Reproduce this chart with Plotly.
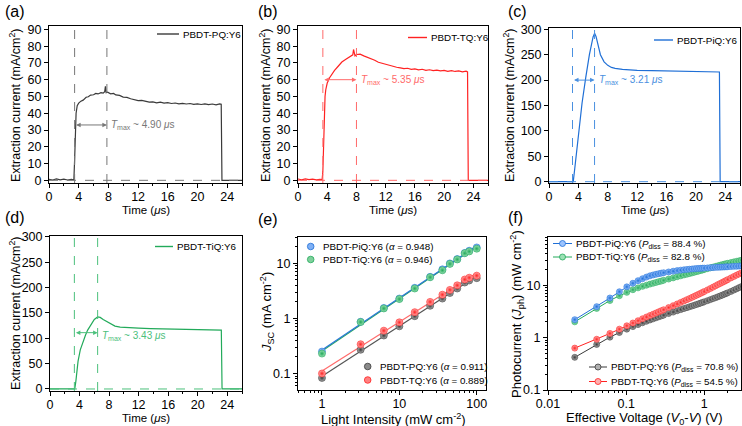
import plotly.graph_objects as go
import numpy as np

W, H = 742, 426
FONT = "Liberation Sans, Arial, Helvetica, sans-serif"

# ---------------- data: panels (a)-(d), extraction current vs time ----------------
time_pq = [0, 0.5, 1.0, 1.5, 2.0, 2.5, 3.0, 3.35, 3.45, 3.55, 3.65, 3.8, 4.0, 4.3, 4.6, 5.0, 5.3, 5.6,
           6.0, 6.3, 6.6, 7.0, 7.3, 7.5, 7.6, 7.7, 7.9, 8.3, 8.7, 9.0, 9.5, 10, 10.5, 11, 11.5, 12, 12.5,
           13, 13.5, 14, 14.5, 15, 15.5, 16, 16.5, 17, 17.5, 18, 18.5, 19, 19.5, 20, 20.5, 21, 21.5, 22,
           22.5, 23, 23.2, 23.3, 24, 25, 26]
cur_pq = [0.6, 0.2, 0.8, 0.3, 0.7, 0.2, 0.5, 0.3, 12, 28, 40, 44.5, 46, 47.2, 47.8, 49.5, 49.8, 50.8,
          51, 51.8, 51.5, 52.3, 52, 52.8, 56, 52.2, 52.5, 51.6, 51.8, 50.9, 50.6, 49.6, 49.4, 48.6, 48.2,
          47.5, 47.6, 47.0, 46.6, 46.8, 46.2, 46.6, 46.0, 46.3, 45.8, 46.1, 45.6, 45.9, 45.5, 45.8, 45.3,
          45.6, 45.2, 45.6, 45.1, 45.5, 45.0, 45.6, 45.4, 0, 0, 0, 0]

time_tq = [0, 0.5, 1.0, 1.5, 2.0, 2.5, 3.0, 3.3, 3.4, 3.5, 3.6, 3.7, 3.8, 4.0, 4.3, 4.6, 5.0, 5.5, 6.0,
           6.5, 7.0, 7.3, 7.5, 7.6, 7.8, 8.0, 8.5, 9.0, 9.5, 10, 10.5, 11, 11.5, 12, 12.5, 13, 13.5, 14,
           14.5, 15, 15.5, 16, 16.5, 17, 17.5, 18, 18.5, 19, 19.5, 20, 20.5, 21, 21.5, 22, 22.5, 23, 23.2,
           23.3, 24, 25, 26]
cur_tq = [0.8, 0.3, 0.9, 0.4, 0.7, 0.3, 0.6, 0.4, 5, 25, 42, 50, 54, 58, 61, 63, 65.5, 68, 70.5,
          72, 73.5, 74.2, 74.8, 78, 74.2, 75, 75.2, 74.2, 73.4, 72.4, 71.6, 70.4, 69.8, 68.8, 68.4, 67.6,
          67.4, 67.0, 66.6, 66.8, 66.2, 66.4, 65.9, 66.2, 65.6, 65.9, 65.4, 65.7, 65.2, 65.5, 65.0, 65.4,
          64.9, 65.2, 64.7, 65.1, 64.6, 0, 0, 0, 0]

time_piq = [0, 1, 2, 3.0, 3.3, 3.5, 4.0, 4.5, 5.0, 5.5, 6.0, 6.2, 6.4, 6.7, 7.0, 7.5, 8.0, 8.5, 9.0,
            10, 11, 12, 14, 16, 18, 20, 22, 23.2, 23.3, 24, 26]
cur_piq = [0, 0, 0, 0, 0, 25, 95, 155, 205, 250, 285, 292, 286, 265, 250, 236, 229, 225, 223,
           221, 220, 219, 218.5, 218, 217.5, 217, 216.5, 216, 0, 0, 0]

time_tiq = [0, 1, 2, 3.0, 3.35, 3.5, 3.65, 3.8, 4.1, 4.5, 4.8, 5.1, 5.5, 6.0, 6.45, 6.8, 7.2, 7.7,
            8.3, 8.8, 9.5, 10.4, 12, 13.6, 16, 18.2, 20, 22, 23.2, 23.3, 24, 26]
cur_tiq = [0, 0, 0, 0, 0, 15, 37, 55, 77, 95, 106, 116, 126, 137, 142, 141, 137, 132.5,
           128, 124, 122, 121, 120, 119, 118.5, 118, 117.5, 117, 116, 0, 0, 0]

tmax_start = [3.45, 3.4, 3.2, 3.3]
tmax_peak = [7.8, 8.0, 6.2, 6.45]
tmax_arrow_y = [33, 60, 200, 111]
tmax_text_y = [33, 60, 200, 105]
tmax_values = ["4.90", "5.35", "3.21", "3.43"]

# ---------------- data: panel (e), Jsc vs light intensity ----------------
intensity = [1, 3.16, 6.3, 10, 15.8, 25, 36, 45, 56, 70, 80, 100]
jsc_piq = [0.25, 0.87, 1.55, 2.3, 3.6, 5.7, 7.8, 10.0, 12.0, 15.5, 17.0, 19.5]
jsc_tiq = [0.23, 0.86, 1.52, 2.25, 3.5, 5.6, 7.5, 9.8, 11.8, 15.3, 16.5, 18.5]
jsc_pq = [0.083, 0.27, 0.49, 0.72, 1.1, 1.7, 2.3, 2.9, 3.5, 4.5, 4.9, 5.4]
jsc_tq = [0.10, 0.34, 0.60, 0.85, 1.3, 2.0, 2.7, 3.3, 4.0, 5.1, 5.5, 6.0]
alpha_piq, alpha_tiq, alpha_pq, alpha_tq = "0.948", "0.946", "0.911", "0.889"

# ---------------- data: panel (f), photocurrent vs effective voltage ----------------
veff = [0.022, 0.042, 0.062, 0.082, 0.102, 0.122, 0.142, 0.162, 0.182, 0.202, 0.222, 0.242, 0.262,
        0.282, 0.302, 0.35, 0.40, 0.45, 0.50, 0.55, 0.60, 0.65, 0.70, 0.75, 0.80, 0.85, 0.90, 0.95,
        1.0, 1.1, 1.2, 1.3, 1.4, 1.5, 1.6, 1.7, 1.8, 1.9, 2.0, 2.2, 2.4, 2.6, 2.8, 3.0]
jph_piq = [2.2, 3.9, 5.7, 7.5, 9.3, 10.9, 12.2, 13.3, 14.3, 15.1, 15.7, 16.2, 16.6, 17.0, 17.3,
           17.9, 18.5, 19.0, 19.4, 19.7, 20.0, 20.2, 20.4, 20.6, 20.8, 20.9, 21.0, 21.1, 21.2, 21.4,
           21.6, 21.7, 21.9, 22.0, 22.1, 22.2, 22.3, 22.4, 22.5, 22.7, 22.9, 23.0, 23.2, 23.3]
jph_tiq = [2.0, 3.6, 5.1, 6.3, 7.3, 8.2, 8.9, 9.5, 10.0, 10.5, 10.9, 11.3, 11.7, 12.0, 12.4,
           13.1, 13.8, 14.5, 15.1, 15.7, 16.2, 16.7, 17.2, 17.7, 18.2, 18.6, 19.1, 19.5, 19.9, 20.7,
           21.5, 22.2, 22.9, 23.5, 24.1, 24.7, 25.2, 25.7, 26.2, 27.1, 27.9, 28.6, 29.3, 30.0]
jph_pq = [0.42, 0.74, 1.02, 1.25, 1.45, 1.62, 1.77, 1.92, 2.05, 2.17, 2.28, 2.39, 2.49, 2.59, 2.68,
          2.88, 3.07, 3.25, 3.42, 3.58, 3.73, 3.88, 4.02, 4.16, 4.30, 4.43, 4.56, 4.69, 4.82, 5.07,
          5.31, 5.55, 5.78, 6.01, 6.24, 6.47, 6.70, 6.93, 7.16, 7.62, 8.08, 8.54, 9.00, 9.45]
jph_tq = [0.63, 0.93, 1.20, 1.45, 1.68, 1.90, 2.10, 2.29, 2.47, 2.64, 2.80, 2.96, 3.11, 3.26, 3.40,
          3.74, 4.07, 4.39, 4.70, 5.00, 5.30, 5.59, 5.88, 6.17, 6.45, 6.73, 7.01, 7.29, 7.57, 8.12,
          8.67, 9.21, 9.75, 10.3, 10.8, 11.3, 11.8, 12.3, 12.8, 13.8, 14.7, 15.6, 16.4, 17.2]
pdiss_piq, pdiss_tiq, pdiss_pq, pdiss_tq = "88.4", "82.8", "70.8", "54.5"

N_PQ, N_TQ, N_PIQ, N_TIQ = "PBDT-PQ:Y6", "PBDT-TQ:Y6", "PBDT-PiQ:Y6", "PBDT-TiQ:Y6"

# ---------------- styling ----------------
C_PQ, C_TQ, C_PIQ, C_TIQ = "#3a3a3a", "#ff2222", "#1f6fd6", "#22aa5a"
C_PQ_L, C_TQ_L, C_PIQ_L, C_TIQ_L = "#777777", "#ff6a6a", "#4a90e0", "#4cc07c"
LEG_FS = 9.8

boxes = {  # left, right, top, bottom  (pixels)
    1: (49, 242, 26, 183),
    2: (298, 488, 26, 183),
    3: (549, 740, 28, 183),
    4: (50, 242, 236, 391),
    5: (298, 486, 237, 390),
    6: (548, 741, 237, 390),
}


def px(x):
    return x / W


def py(y):
    return 1 - y / H


fig = go.Figure()

axis_base = dict(showline=True, linecolor="black", linewidth=1, mirror=True, ticks="outside",
                 ticklen=4, tickwidth=1, tickcolor="black", showgrid=False, zeroline=False,
                 automargin=False, tickfont=dict(size=12.5, color="black", family=FONT))

layout_axes = {}
for i, (l, r, t, b) in boxes.items():
    xk = "xaxis" if i == 1 else f"xaxis{i}"
    yk = "yaxis" if i == 1 else f"yaxis{i}"
    xa = dict(axis_base, domain=[px(l), px(r)], anchor=f"y{'' if i == 1 else i}",
              ticklabelstandoff=-2)
    ya = dict(axis_base, domain=[py(b), py(t)], anchor=f"x{'' if i == 1 else i}")
    layout_axes[xk] = xa
    layout_axes[yk] = ya

# time panels
time_sets = [(time_pq, cur_pq, C_PQ, C_PQ_L), (time_tq, cur_tq, C_TQ, C_TQ_L),
             (time_piq, cur_piq, C_PIQ, C_PIQ_L), (time_tiq, cur_tiq, C_TIQ, C_TIQ_L)]
yranges = {1: [-1.6, 92], 2: [-1.6, 92], 3: [-2.6, 302.6], 4: [-4, 301.5]}
ydticks = {1: 10, 2: 10, 3: 50, 4: 50}
shapes = []
annotations = []
for k, (tt, cc, col, coll) in enumerate(time_sets):
    i = k + 1
    xr = "x" if i == 1 else f"x{i}"
    yr = "y" if i == 1 else f"y{i}"
    xk = "xaxis" if i == 1 else f"xaxis{i}"
    yk = "yaxis" if i == 1 else f"yaxis{i}"
    layout_axes[xk].update(range=[0, 26], dtick=4, tick0=0,
                           minor=dict(ticks="outside", ticklen=2, dtick=2, tickcolor="black"))
    layout_axes[yk].update(range=yranges[i], dtick=ydticks[i], tick0=0)
    fig.add_trace(go.Scatter(x=tt, y=cc, mode="lines", line=dict(color=col, width=1.2),
                             xaxis=xr, yaxis=yr, showlegend=False))
    dash_col = coll
    shapes.append(dict(type="line", xref=f"{xr} domain", yref=yr, x0=0, x1=1, y0=0, y1=0,
                       line=dict(color=dash_col, width=1, dash="dash")))
    for xv in (tmax_start[k], tmax_peak[k]):
        shapes.append(dict(type="line", xref=xr, yref=f"{yr} domain", x0=xv, x1=xv, y0=0, y1=1,
                           line=dict(color=dash_col, width=1, dash="dash")))
    annotations.append(dict(x=tmax_peak[k], y=tmax_arrow_y[k], ax=tmax_start[k], ay=tmax_arrow_y[k],
                            xref=xr, yref=yr, axref=xr, ayref=yr, text="", showarrow=True,
                            arrowhead=2, arrowside="end+start", arrowsize=0.9, arrowwidth=1,
                            arrowcolor=coll))
    annotations.append(dict(x=tmax_peak[k] + 0.3, y=tmax_text_y[k], xref=xr, yref=yr,
                            text=f"<i>T</i><sub>max</sub> ~ {tmax_values[k]} <i>μ</i>s",
                            showarrow=False, xanchor="left", yanchor="middle",
                            font=dict(size=10, color=coll, family=FONT)))

# panel (e)
e_sets = [(jsc_piq, C_PIQ, "#9cc4ff", "#2a78d8"), (jsc_tiq, C_TIQ, "#9be0b4", "#2aa860"),
          (jsc_pq, C_PQ, "#b0b0b0", "#555555"), (jsc_tq, C_TQ, "#ffb0b0", "#ff6a6a")]
lx = np.log10(intensity)
for jv, col, light, fitcol in [e_sets[2], e_sets[3], e_sets[1], e_sets[0]]:
    slope, icpt = np.polyfit(lx, np.log10(jv), 1)
    xf = [intensity[0], intensity[-1]]
    yf = [10 ** (icpt + slope * np.log10(v)) for v in xf]
    fig.add_trace(go.Scatter(x=xf, y=yf, mode="lines", line=dict(color=fitcol, width=1.2),
                             xaxis="x5", yaxis="y5", showlegend=False))
for jv, col, light, fitcol in e_sets:
    fig.add_trace(go.Scatter(x=intensity, y=jv, mode="markers",
                             marker=dict(size=7, color=light, gradient=dict(type="radial", color=col),
                                         line=dict(width=0.6, color=col)),
                             xaxis="x5", yaxis="y5", showlegend=False))
layout_axes["xaxis5"].update(type="log", range=[-0.31, 2.12], dtick=1,
                             minor=dict(ticks="outside", ticklen=2, dtick="D1", tickcolor="black"))
layout_axes["yaxis5"].update(type="log", range=[-1.30, 1.48], dtick=1,
                             minor=dict(ticks="outside", ticklen=2, dtick="D1", tickcolor="black"))

# panel (f)
f_sets = [(jph_pq, C_PQ, "#b0b0b0"), (jph_tq, C_TQ, "#ffb0b0"),
          (jph_tiq, C_TIQ, "#9be0b4"), (jph_piq, C_PIQ, "#9cc4ff")]
for jv, col, light in f_sets:
    fig.add_trace(go.Scatter(x=veff, y=jv, mode="lines+markers", line=dict(color=col, width=1),
                             marker=dict(size=6, color=light, gradient=dict(type="radial", color=col),
                                         line=dict(width=0.6, color=col)),
                             xaxis="x6", yaxis="y6", showlegend=False))
layout_axes["xaxis6"].update(type="log", range=[-2, 0.47], dtick=1,
                             minor=dict(ticks="outside", ticklen=2, dtick="D1", tickcolor="black"))
layout_axes["yaxis6"].update(type="log", range=[-1, 1.92], dtick=1,
                             minor=dict(ticks="outside", ticklen=2, dtick="D1", tickcolor="black"))


def ann_px(x, y, text, size, xanchor="center", angle=0, color="black"):
    annotations.append(dict(x=px(x), y=py(y), xref="paper", yref="paper", text=text,
                            showarrow=False, xanchor=xanchor, yanchor="middle", textangle=angle,
                            font=dict(size=size, color=color, family=FONT)))


# panel labels
for lab, x, y in [("(a)", 3, 11), ("(b)", 256, 11), ("(c)", 506, 11),
                  ("(d)", 3, 218), ("(e)", 256, 219), ("(f)", 506, 218)]:
    ann_px(x, y, lab, 16, xanchor="left")

# axis titles
ytitle_time = "Extraction current (mA/cm<sup>2</sup>)"
for x, y in [(15, 105), (265, 105), (509, 105), (15, 313)]:
    ann_px(x, y, ytitle_time, 12.5, angle=-90)
xtitle_time = "Time (<i>μ</i>s)"
for x, y in [(145.5, 210), (393, 210), (644.5, 210), (146, 418)]:
    ann_px(x, y, xtitle_time, 11.5)
ann_px(267, 312, "<i>J</i><sub>SC</sub> (mA cm<sup>-2</sup>)", 13, angle=-90)
ann_px(393, 418.5, "Light Intensity (mW cm<sup>-2</sup>)", 13)
ann_px(517, 314, "Photocurrent (<i>J</i><sub>ph</sub>) (mW cm<sup>-2</sup>)", 13, angle=-90)
ann_px(644, 418.5, "Effective Voltage (<i>V</i><sub>0</sub>-<i>V</i>) (V)", 13)

# legends (a)-(d): line + text
leg_line = [(157, 179, 34, C_PQ, N_PQ), (408, 427, 37.5, C_TQ, N_TQ),
            (654, 673, 40, C_PIQ, N_PIQ), (155, 173, 246.5, C_TIQ, N_TIQ)]
for x0, x1, y, col, nm in leg_line:
    shapes.append(dict(type="line", xref="paper", yref="paper", x0=px(x0), x1=px(x1),
                       y0=py(y), y1=py(y), line=dict(color=col, width=1.4)))
    ann_px(x1 + 2, y, nm, LEG_FS, xanchor="left")


def marker_shape(cx, cy, r, fill, edge):
    shapes.append(dict(type="circle", xref="paper", yref="paper", x0=px(cx - r), x1=px(cx + r),
                       y0=py(cy + r), y1=py(cy - r), fillcolor=fill, line=dict(color=edge, width=0.8)))


# legends (e)
e_leg = [(310.7, 246.5, N_PIQ, alpha_piq, C_PIQ, "#7fb0f5"),
         (310.7, 259.5, N_TIQ, alpha_tiq, C_TIQ, "#7fd09c"),
         (367.7, 366.5, N_PQ, alpha_pq, C_PQ, "#8a8a8a"),
         (367.7, 380, N_TQ, alpha_tq, C_TQ, "#ff8080")]
for cx, cy, nm, av, col, fill in e_leg:
    marker_shape(cx, cy, 3.3, fill, col)
    ann_px(cx + 10, cy, f"{nm} (<i>α</i> = {av})", 9.8, xanchor="left")

# legends (f)
f_leg = [(553, 572, 243.5, N_PIQ, pdiss_piq, C_PIQ, "#9cc4ff"),
         (553, 572, 257, N_TIQ, pdiss_tiq, C_TIQ, "#9be0b4"),
         (589, 607, 367, N_PQ, pdiss_pq, C_PQ, "#b0b0b0"),
         (589, 607, 381.5, N_TQ, pdiss_tq, C_TQ, "#ffb0b0")]
for x0, x1, y, nm, pv, col, fill in f_leg:
    shapes.append(dict(type="line", xref="paper", yref="paper", x0=px(x0), x1=px(x1),
                       y0=py(y), y1=py(y), line=dict(color=col, width=1)))
    marker_shape((x0 + x1) / 2, y, 3, fill, col)
    ann_px(x1 + 2, y, f"{nm} (<i>P</i><sub>diss</sub> = {pv} %)", 9.8, xanchor="left")

fig.update_layout(width=W, height=H, margin=dict(l=0, r=0, t=0, b=0, autoexpand=False),
                  paper_bgcolor="white", plot_bgcolor="white",
                  font=dict(family=FONT, size=12, color="black"),
                  shapes=shapes, annotations=annotations, showlegend=False, **layout_axes)

fig.write_html("out.html", config={"displayModeBar": False},
               post_script="document.body.style.margin='0px';")
